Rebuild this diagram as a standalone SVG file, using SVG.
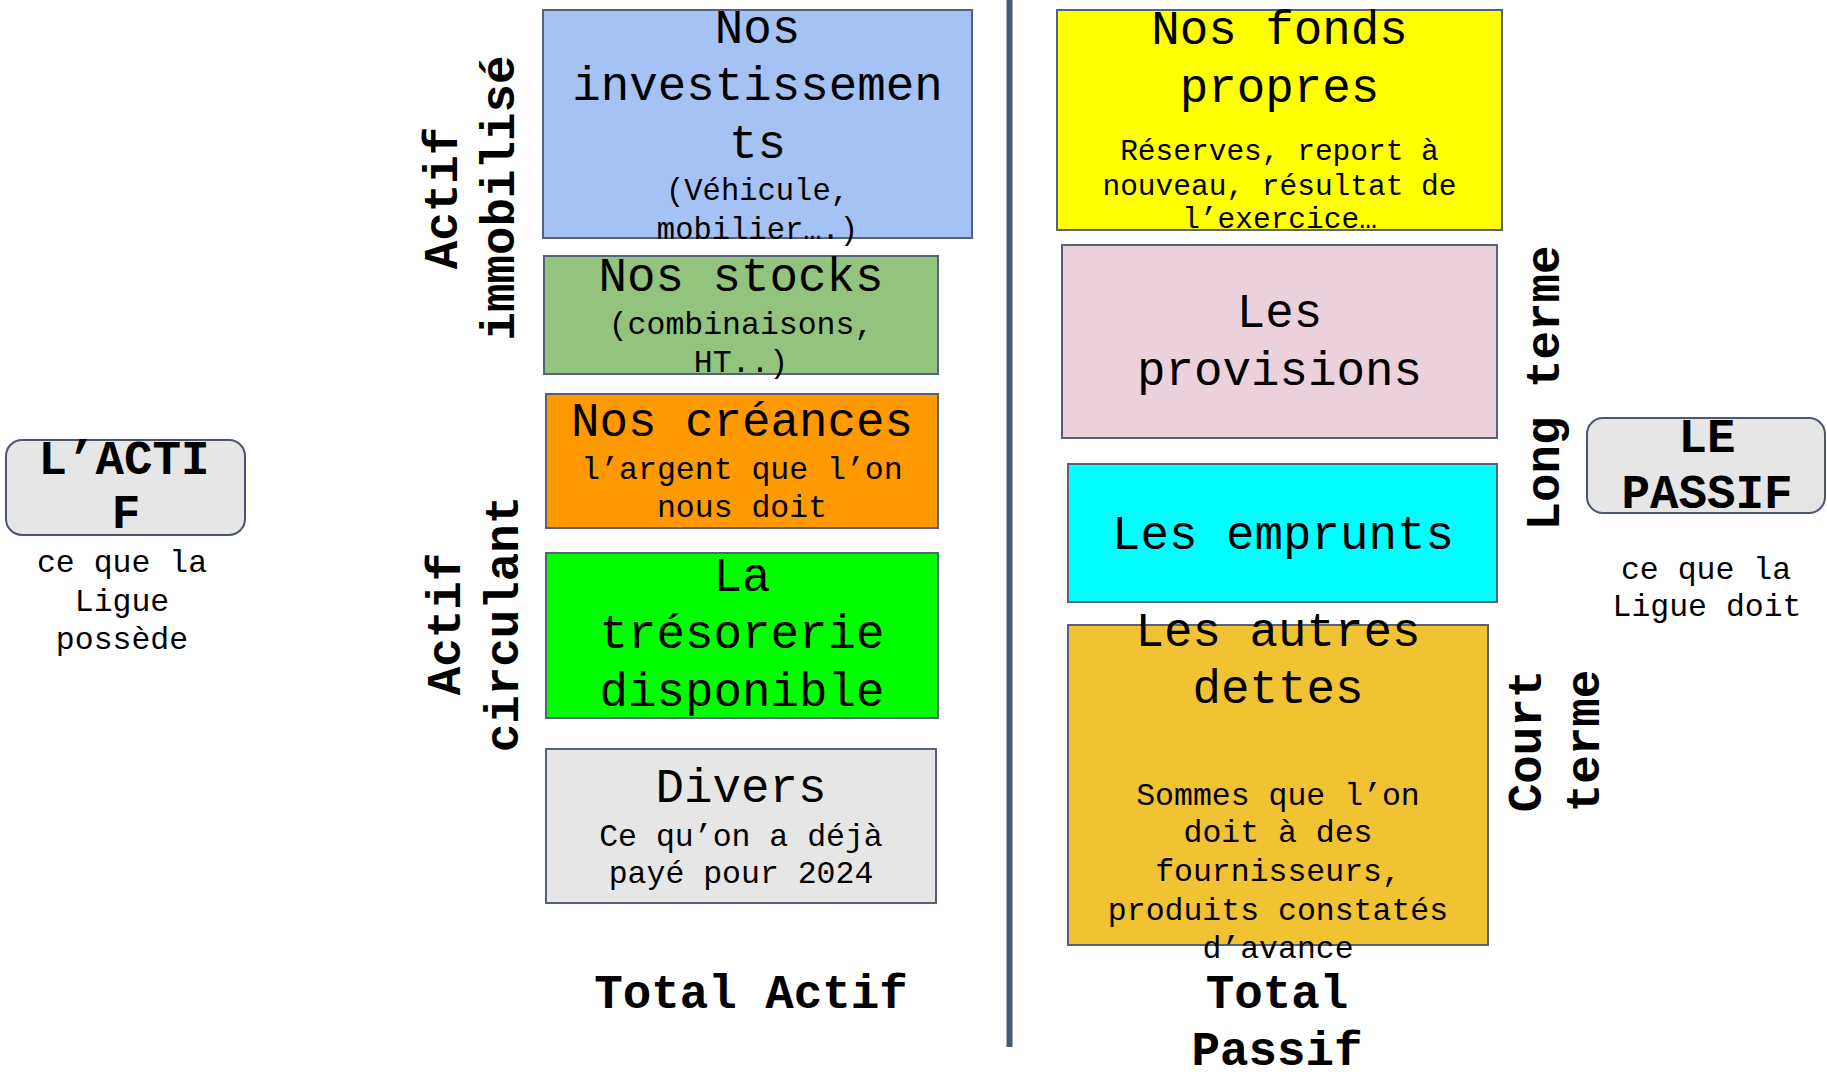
<svg xmlns="http://www.w3.org/2000/svg" width="1827" height="1074" viewBox="0 0 1827 1074">
  <style>
    .box { stroke: #56627c; stroke-width: 2; }
    .pill { fill: #e6e6e6; stroke: #4a5673; stroke-width: 2; }
    text { font-family: "Liberation Mono", "Courier New", monospace; fill: #000; text-anchor: middle; }
    .t { font-size: 47.5px; }
    .s { font-size: 31.5px; }
    .b { font-size: 47.5px; font-weight: bold; }
  </style>
  <rect width="1827" height="1074" fill="#ffffff"/>

  <!-- central separator between assets and liabilities -->
  <g id="connectors">
    <line x1="1009.5" y1="0" x2="1009.5" y2="1047" stroke="#4a5875" stroke-width="6"/>
  </g>

  <!-- ASSETS -->
  <g id="actif">
    <rect class="pill" x="6" y="440" width="239" height="95" rx="16"/>
    <text class="b" x="124" y="474">L’ACTI</text>
    <text class="b" x="126" y="528">F</text>
    <text class="s" x="122" y="572">ce que la</text>
    <text class="s" x="122" y="611">Ligue</text>
    <text class="s" x="122" y="649">possède</text>
  </g>

  <g id="label-immobilise">
    <text class="b" transform="translate(457,198) rotate(-90)">Actif</text>
    <text class="b" transform="translate(514,198) rotate(-90)">immobilisé</text>
  </g>
  <g id="label-circulant">
    <text class="b" transform="translate(460,624) rotate(-90)">Actif</text>
    <text class="b" transform="translate(518,624) rotate(-90)">circulant</text>
  </g>

  <g id="investissements">
    <rect class="box" x="543" y="10" width="429" height="228" fill="#a4c2f4"/>
    <text class="t" x="757.5" y="43">Nos</text>
    <text class="t" x="757.5" y="100">investissemen</text>
    <text class="t" x="757.5" y="158">ts</text>
    <text class="s" x="757.5" y="200" style="font-size:30.5px">(Véhicule,</text>
    <text class="s" x="757.5" y="239" style="font-size:30.5px">mobilier….)</text>
  </g>

  <g id="stocks">
    <rect class="box" x="544" y="256" width="394" height="118" fill="#93c47d"/>
    <text class="t" x="741" y="291">Nos stocks</text>
    <text class="s" x="741" y="334">(combinaisons,</text>
    <text class="s" x="741" y="372">HT..)</text>
  </g>

  <g id="creances">
    <rect class="box" x="546" y="394" width="392" height="134" fill="#ff9900"/>
    <text class="t" x="742" y="436">Nos créances</text>
    <text class="s" x="742" y="479">l’argent que l’on</text>
    <text class="s" x="742" y="517">nous doit</text>
  </g>

  <g id="tresorerie">
    <rect class="box" x="546" y="553" width="392" height="165" fill="#00ff00"/>
    <text class="t" x="742" y="591">La</text>
    <text class="t" x="742" y="648">trésorerie</text>
    <text class="t" x="742" y="706">disponible</text>
  </g>

  <g id="divers">
    <rect class="box" x="546" y="749" width="390" height="154" fill="#e6e6e6"/>
    <text class="t" x="741" y="802">Divers</text>
    <text class="s" x="741" y="846">Ce qu’on a déjà</text>
    <text class="s" x="741" y="883">payé pour 2024</text>
  </g>

  <g id="total-actif">
    <text class="b" x="751" y="1008">Total Actif</text>
  </g>

  <!-- LIABILITIES -->
  <g id="fonds-propres">
    <rect class="box" x="1057" y="10" width="445" height="220" fill="#ffff00"/>
    <text class="t" x="1279.5" y="44">Nos fonds</text>
    <text class="t" x="1279.5" y="102">propres</text>
    <text class="s" x="1279.5" y="160" style="font-size:29.5px">Réserves, report à</text>
    <text class="s" x="1279.5" y="195" style="font-size:29.5px">nouveau, résultat de</text>
    <text class="s" x="1279.5" y="228" style="font-size:29.5px">l’exercice…</text>
  </g>

  <g id="provisions">
    <rect class="box" x="1062" y="245" width="435" height="193" fill="#ead1dc"/>
    <text class="t" x="1279.5" y="327">Les</text>
    <text class="t" x="1279.5" y="385">provisions</text>
  </g>

  <g id="emprunts">
    <rect class="box" x="1068" y="464" width="429" height="138" fill="#00ffff"/>
    <text class="t" x="1283" y="549">Les emprunts</text>
  </g>

  <g id="autres-dettes">
    <rect class="box" x="1068" y="625" width="420" height="320" fill="#f1c232"/>
    <text class="t" x="1278" y="646">Les autres</text>
    <text class="t" x="1278" y="703">dettes</text>
    <text class="s" x="1278" y="805">Sommes que l’on</text>
    <text class="s" x="1278" y="842">doit à des</text>
    <text class="s" x="1278" y="881">fournisseurs,</text>
    <text class="s" x="1278" y="920">produits constatés</text>
    <text class="s" x="1278" y="958">d’avance</text>
  </g>

  <g id="label-long-terme">
    <text class="b" transform="translate(1559,388) rotate(-90)">Long terme</text>
  </g>
  <g id="label-court-terme">
    <text class="b" transform="translate(1541,741) rotate(-90)">Court</text>
    <text class="b" transform="translate(1599,741) rotate(-90)">terme</text>
  </g>

  <g id="total-passif">
    <text class="b" x="1277" y="1008">Total</text>
    <text class="b" x="1277" y="1065">Passif</text>
  </g>

  <g id="passif">
    <rect class="pill" x="1587" y="418" width="238" height="95" rx="16"/>
    <text class="b" x="1707" y="452">LE</text>
    <text class="b" x="1707" y="508">PASSIF</text>
    <text class="s" x="1706" y="579">ce que la</text>
    <text class="s" x="1707" y="616">Ligue doit</text>
  </g>
</svg>
